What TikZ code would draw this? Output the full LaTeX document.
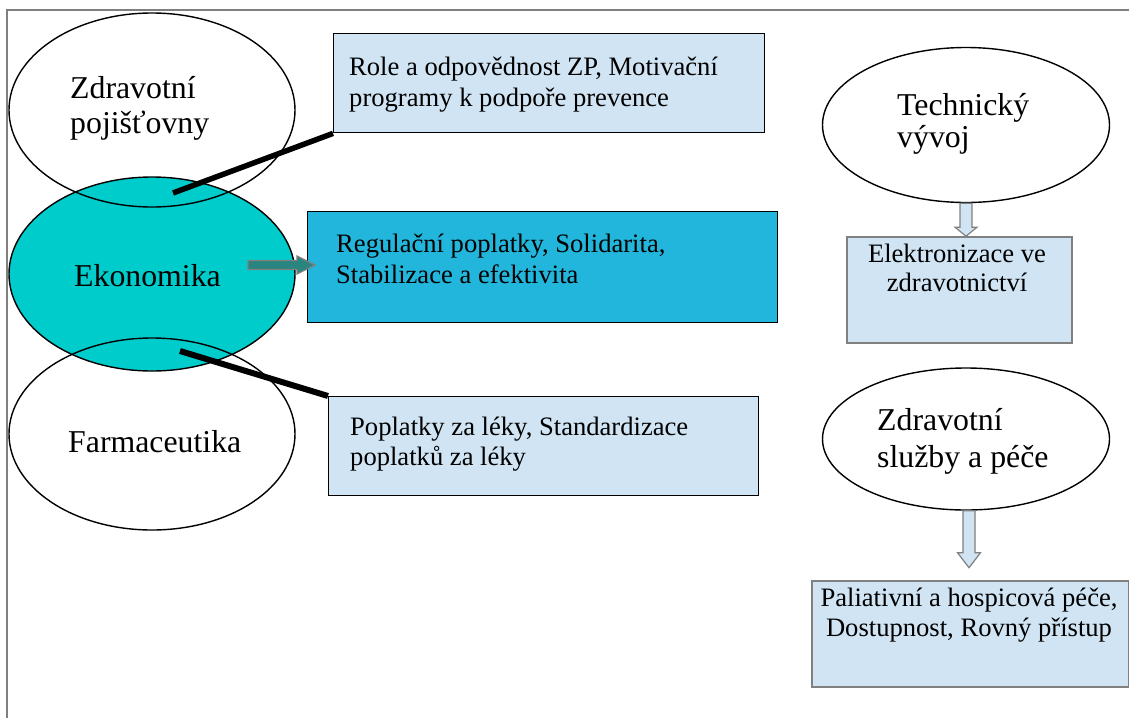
\documentclass[tikz,border=0pt]{standalone}
\usepackage{fontspec}
\setmainfont{Liberation Serif}
\usetikzlibrary{shapes.geometric,calc}
\definecolor{lightbox}{RGB}{208,228,243}
\definecolor{bluebox}{RGB}{35,182,220}
\definecolor{tealfill}{RGB}{0,204,204}
\definecolor{arrowteal}{RGB}{42,132,128}
\definecolor{framegray}{RGB}{128,128,128}
\begin{document}
\begin{tikzpicture}[x=1pt,y=-1pt,
  oval/.style={ellipse, draw=black, line width=1.4pt, inner sep=0pt},
  bigtxt/.style={font=\fontsize{31.8}{35}\selectfont, inner sep=0pt, anchor=base west},
  boxtxt/.style={font=\fontsize{26.6}{30}\selectfont, inner sep=0pt, anchor=base west},
  ctrtxt/.style={font=\fontsize{26.6}{30}\selectfont, inner sep=0pt, anchor=base},
  plainbox/.style={draw=black, line width=1.4pt, fill=lightbox, inner sep=0pt, anchor=north west},
  graybox/.style={draw=framegray, line width=2pt, fill=lightbox, inner sep=0pt, anchor=north west},
  thickline/.style={line width=5.5pt, black},
  downarrow/.style={draw=framegray, line width=1.2pt, fill=lightbox},
  rightarrow/.style={draw=framegray, line width=1.2pt, fill=arrowteal},
]
\useasboundingbox (0,0) rectangle (1129,718);
\fill[white] (0,0) rectangle (1129,718);
% frame
\draw[framegray, line width=2pt] (7,718) -- (7,10) -- (1129,10);

% left ellipses
\fill[tealfill] (152,274) ellipse [x radius=143pt, y radius=97pt];
\node[oval, minimum width=286pt, minimum height=194pt] (zp) at (152,110) {};
\node[oval, minimum width=286pt, minimum height=194pt] (eko) at (152,274) {};
\node[oval, minimum width=286pt, minimum height=192pt] (farm) at (152,434) {};
\node[bigtxt] (zpA) at (70,98) {Zdravotní};
\node[bigtxt] (zpB) at (70,133) {pojišťovny};
\node[bigtxt] (ekoT) at (74,286) {Ekonomika};
\node[bigtxt] (farmT) at (68,452) {Farmaceutika};

% middle boxes
\node[plainbox, minimum width=431pt, minimum height=99pt] (b1) at (333,33) {};
\node[boxtxt] (b1A) at (349,75) {Role a odpovědnost ZP, Motivační};
\node[boxtxt] (b1B) at (349,106) {programy k podpoře prevence};

\node[plainbox, fill=bluebox, minimum width=470pt, minimum height=111pt] (b2) at (307,211) {};
\node[boxtxt] (b2A) at (336,252) {Regulační poplatky, Solidarita,};
\node[boxtxt] (b2B) at (336,283) {Stabilizace a efektivita};

\node[plainbox, minimum width=430pt, minimum height=99pt] (b3) at (328,396) {};
\node[boxtxt] (b3A) at (350,435) {Poplatky za léky, Standardizace};
\node[boxtxt] (b3B) at (350,465) {poplatků za léky};

% connectors
\coordinate (c1) at (173,193);
\draw[thickline] (c1) -- (b1.south west);
\coordinate (c2) at (180,351);
\draw[thickline, line width=6pt] (c2) -- (b3.north west);
\coordinate (a1s) at (248,265);
\draw[rightarrow] (a1s) ++(0,-4.5) -- ++(49,0) -- ++(0,-4.5) -- ++(18,9) -- ++(-18,9) -- ++(0,-4.5) -- ++(-49,0) -- cycle;

% right column
\node[oval, minimum width=287pt, minimum height=155pt] (tech) at (966,125) {};
\node[bigtxt] (techA) at (897,115) {Technický};
\node[bigtxt] (techB) at (897,147) {vývoj};

\node[graybox, minimum width=225pt, minimum height=106pt] (el) at (846,236) {};
\node[ctrtxt] (elA) at (957,262) {Elektronizace ve};
\node[ctrtxt] (elB) at (957,291) {zdravotnictví};
\draw[downarrow] ($(tech.south)+(-6,0)$) -- ++(0,24) -- ++(-5,0) -- ++(11,9) -- ++(11,-9) -- ++(-5,0) -- ++(0,-24) -- cycle;

\node[oval, minimum width=287pt, minimum height=142pt] (zss) at (966,439) {};
\node[bigtxt] (zssA) at (877,430) {Zdravotní};
\node[bigtxt] (zssB) at (877,467) {služby a péče};

\node[graybox, minimum width=317pt, minimum height=106pt] (pal) at (811,580) {};
\node[ctrtxt] (palA) at (969,606) {Paliativní a hospicová péče,};
\node[ctrtxt] (palB) at (969,636) {Dostupnost, Rovný přístup};
\draw[downarrow] ($(zss.south)+(-3,0)$) -- ++(0,42) -- ++(-5.5,0) -- ++(11.5,15) -- ++(11.5,-15) -- ++(-5.5,0) -- ++(0,-42) -- cycle;
\end{tikzpicture}
\end{document}
